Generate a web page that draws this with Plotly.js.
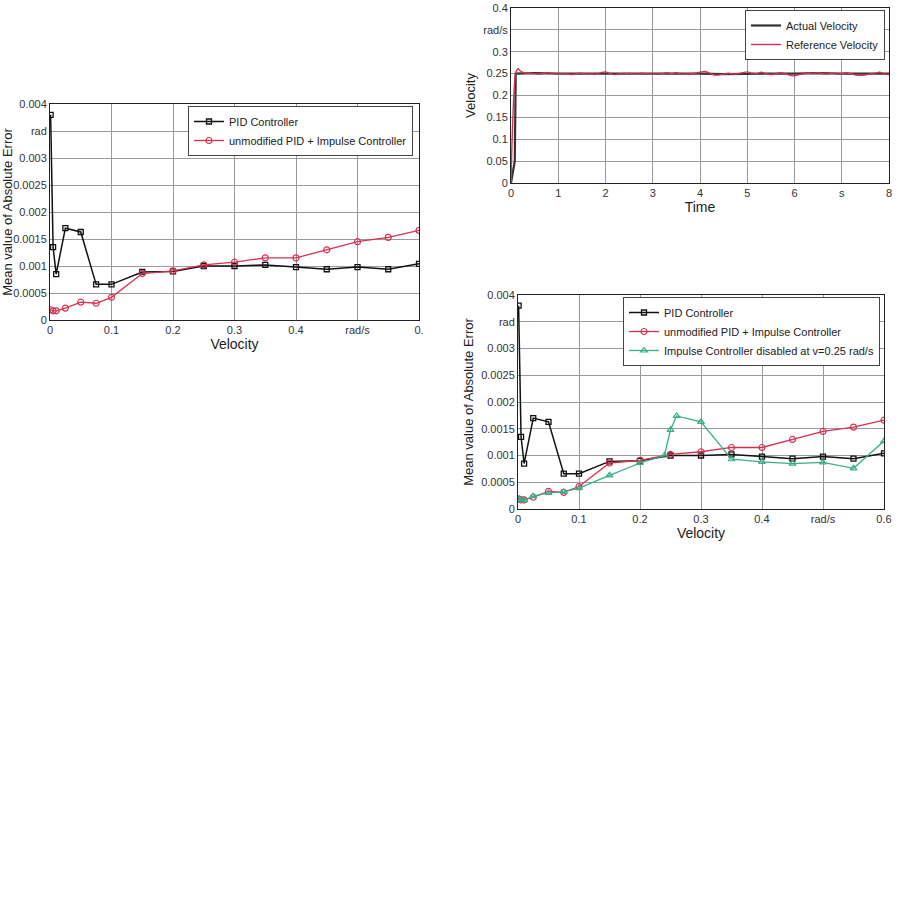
<!DOCTYPE html>
<html>
<head>
<meta charset="utf-8">
<script src="https://cdn.plot.ly/plotly-3.0.1.min.js"></script>
<style>html,body{margin:0;padding:0;background:#fff;}#chart{width:912px;height:914px;}</style>
</head>
<body>
<div id="chart"></div>
<script>
// ---- Data: error vs velocity ----
const velPID = [0.001, 0.005, 0.01, 0.025, 0.05, 0.075, 0.1, 0.15, 0.2, 0.25, 0.3, 0.35, 0.4, 0.45, 0.5, 0.55, 0.6];
const errPID = [0.0038, 0.00135, 0.00085, 0.0017, 0.00163, 0.00066, 0.00066, 0.00089, 0.0009, 0.001, 0.001, 0.00102, 0.00098, 0.00094, 0.00098, 0.00094, 0.00104];
const velImp = [0.001, 0.005, 0.01, 0.025, 0.05, 0.075, 0.1, 0.15, 0.2, 0.25, 0.3, 0.35, 0.4, 0.45, 0.5, 0.55, 0.6];
const errImp = [0.00019, 0.00017, 0.00017, 0.00022, 0.00033, 0.00031, 0.00042, 0.00086, 0.00091, 0.00102, 0.00107, 0.00115, 0.00115, 0.0013, 0.00145, 0.00153, 0.00166];
const velDis = [0.001, 0.005, 0.01, 0.025, 0.05, 0.075, 0.1, 0.15, 0.2, 0.24, 0.25, 0.26, 0.3, 0.35, 0.4, 0.45, 0.5, 0.55, 0.6];
const errDis = [0.00018, 0.00017, 0.00016, 0.00024, 0.0003, 0.00032, 0.00039, 0.00063, 0.00086, 0.001, 0.00148, 0.00174, 0.00163, 0.00093, 0.00088, 0.00085, 0.00087, 0.00076, 0.00127];

// ---- Data: velocity vs time ----
const timeRef = [0, 0.03, 0.07, 0.1, 0.15, 0.2, 0.3,
  0.4,0.5,0.6,0.7,0.8,0.9,1.0,1.1,1.2,1.3,1.4,1.5,1.6,1.7,1.8,1.9,2.0,2.1,2.2,2.3,2.4,2.5,2.6,2.7,2.8,2.9,
  3.0,3.1,3.2,3.3,3.4,3.5,3.6,3.7,3.8,3.9,4.0,4.1,4.2,4.3,4.4,4.5,4.6,4.7,4.8,4.9,5.0,5.1,5.2,5.3,5.4,5.5,
  5.6,5.7,5.8,5.9,6.0,6.1,6.2,6.3,6.4,6.5,6.6,6.7,6.8,6.9,7.0,7.1,7.2,7.3,7.4,7.5,7.6,7.7,7.8,7.9,8.0];
const velRef = [0, 0.12, 0.22, 0.252, 0.261, 0.256, 0.251,
  0.251,0.250,0.249,0.251,0.252,0.250,0.249,0.250,0.249,0.248,0.250,0.251,0.249,0.250,0.249,0.252,0.254,0.250,0.248,0.250,0.249,0.251,0.249,0.250,0.251,0.249,
  0.250,0.249,0.250,0.252,0.250,0.252,0.249,0.250,0.249,0.251,0.253,0.255,0.251,0.247,0.247,0.249,0.251,0.249,0.250,0.252,0.254,0.251,0.250,0.253,0.250,0.248,
  0.250,0.252,0.250,0.246,0.245,0.248,0.250,0.251,0.250,0.252,0.250,0.249,0.251,0.249,0.250,0.252,0.250,0.247,0.246,0.247,0.249,0.251,0.253,0.250,0.248];
const timeAct = [0, 0.08, 0.1, 0.5, 1, 1.5, 2, 2.5, 3, 3.5, 4, 4.5, 5, 5.5, 6, 6.5, 7, 7.5, 8];
const velAct = [0, 0.05, 0.25, 0.251, 0.25, 0.25, 0.251, 0.25, 0.25, 0.251, 0.25, 0.249, 0.25, 0.25, 0.25, 0.251, 0.25, 0.25, 0.25];

// ---- Tick labels ----
const errTickVals = [0, 0.0005, 0.001, 0.0015, 0.002, 0.0025, 0.003, 0.0035, 0.004];
const errTickText = ['0', '0.0005', '0.001', '0.0015', '0.002', '0.0025', '0.003', 'rad', '0.004'];
const velTickVals = [0, 0.1, 0.2, 0.3, 0.4, 0.5, 0.6];
const velTickText1 = ['0', '0.1', '0.2', '0.3', '0.4', 'rad/s', '0.'];
const velTickText3 = ['0', '0.1', '0.2', '0.3', '0.4', 'rad/s', '0.6'];
const timeTickVals = [0, 1, 2, 3, 4, 5, 6, 7, 8];
const timeTickText = ['0', '1', '2', '3', '4', '5', '6', 's', '8'];
const speedTickVals = [0, 0.05, 0.1, 0.15, 0.2, 0.25, 0.3, 0.35, 0.4];
const speedTickText = ['0', '0.05', '0.1', '0.15', '0.2', '0.25', '0.3', 'rad/s', '0.4'];

const BLACK = '#111111', RED = '#d63250', GREEN = '#3aae88';
const FONT = 'Liberation Sans, Arial, sans-serif';

const sq = {symbol: 'square-open', size: 5, color: BLACK, line: {width: 1.3, color: BLACK}};
const ci = {symbol: 'circle-open', size: 6, color: RED, line: {width: 1.2, color: RED}};
const tr = {symbol: 'triangle-up-open', size: 6, color: GREEN, line: {width: 1.2, color: GREEN}};

const traces = [
  {x: velPID, y: errPID, xaxis: 'x', yaxis: 'y', mode: 'lines+markers', name: 'PID Controller',
   line: {color: BLACK, width: 1.5}, marker: sq, legend: 'legend'},
  {x: velImp, y: errImp, xaxis: 'x', yaxis: 'y', mode: 'lines+markers', name: 'unmodified PID + Impulse Controller',
   line: {color: RED, width: 1.3}, marker: ci, legend: 'legend'},

  {x: timeAct, y: velAct, xaxis: 'x2', yaxis: 'y2', mode: 'lines', name: 'Actual Velocity',
   line: {color: '#333333', width: 2.2}, legend: 'legend2'},
  {x: timeRef, y: velRef, xaxis: 'x2', yaxis: 'y2', mode: 'lines', name: 'Reference Velocity',
   line: {color: RED, width: 1.4, shape: 'spline'}, legend: 'legend2'},

  {x: velPID, y: errPID, xaxis: 'x3', yaxis: 'y3', mode: 'lines+markers', name: 'PID Controller',
   line: {color: BLACK, width: 1.5}, marker: sq, legend: 'legend3'},
  {x: velImp, y: errImp, xaxis: 'x3', yaxis: 'y3', mode: 'lines+markers', name: 'unmodified PID + Impulse Controller',
   line: {color: RED, width: 1.3}, marker: ci, legend: 'legend3'},
  {x: velDis, y: errDis, xaxis: 'x3', yaxis: 'y3', mode: 'lines+markers', name: 'Impulse Controller disabled at v=0.25 rad/s',
   line: {color: GREEN, width: 1.3}, marker: tr, legend: 'legend3'}
];

function xax(domain, anchor, range, vals, text, title) {
  return {domain: domain, anchor: anchor, range: range, tickmode: 'array', tickvals: vals, ticktext: text,
    showgrid: true, gridcolor: '#9a9a9a', gridwidth: 1, zeroline: false, showline: true, mirror: true,
    linecolor: '#222', linewidth: 1, ticks: '', tickfont: {family: FONT, size: 11, color: '#333'},
    title: {text: title, font: {family: FONT, size: 14, color: '#222'}, standoff: 0}, automargin: false, fixedrange: true};
}
function yax(domain, anchor, range, vals, text, title) {
  return {domain: domain, anchor: anchor, range: range, tickmode: 'array', tickvals: vals, ticktext: text,
    showgrid: true, gridcolor: '#9a9a9a', gridwidth: 1, zeroline: false, showline: true, mirror: true,
    linecolor: '#222', linewidth: 1, ticks: '', tickfont: {family: FONT, size: 11, color: '#333'},
    title: {text: title, font: {family: FONT, size: 13, color: '#222'}, standoff: 4}, automargin: false, fixedrange: true};
}
const legendBase = {bgcolor: '#ffffff', bordercolor: '#444', borderwidth: 1, font: {family: FONT, size: 11, color: '#222'},
  xanchor: 'right', yanchor: 'top', tracegroupgap: 0, itemwidth: 30};

const layout = {
  width: 912, height: 914,
  margin: {l: 0, r: 0, t: 0, b: 0},
  paper_bgcolor: '#ffffff', plot_bgcolor: '#ffffff',
  showlegend: true,
  xaxis: xax([50/912, 419/912], 'y', [0, 0.6], velTickVals, velTickText1, 'Velocity'),
  yaxis: yax([1 - 320/914, 1 - 104/914], 'x', [0, 0.004], errTickVals, errTickText, 'Mean value of Absolute Error'),
  xaxis2: xax([511/912, 889/912], 'y2', [0, 8], timeTickVals, timeTickText, 'Time'),
  yaxis2: yax([1 - 183/914, 1 - 8/914], 'x2', [0, 0.4], speedTickVals, speedTickText, 'Velocity'),
  xaxis3: xax([518/912, 884/912], 'y3', [0, 0.6], velTickVals, velTickText3, 'Velocity'),
  yaxis3: yax([1 - 509/914, 1 - 295/914], 'x3', [0, 0.004], errTickVals, errTickText, 'Mean value of Absolute Error'),
  legend: Object.assign({}, legendBase, {x: 413/912, y: 1 - 106/914}),
  legend2: Object.assign({}, legendBase, {x: 885/912, y: 1 - 10/914}),
  legend3: Object.assign({}, legendBase, {x: 880/912, y: 1 - 297/914})
};

Plotly.newPlot('chart', traces, layout, {displayModeBar: false, staticPlot: true});
</script>
</body>
</html>
